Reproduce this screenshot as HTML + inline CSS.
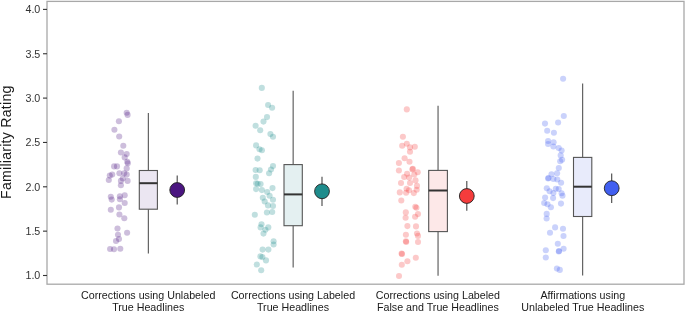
<!DOCTYPE html>
<html><head><meta charset="utf-8"><style>
html,body{margin:0;padding:0;background:#fff;}
body{width:685px;height:311px;overflow:hidden;position:relative;font-family:"Liberation Sans",sans-serif;}
svg{position:absolute;left:0;top:0;will-change:transform;}
svg text{font-family:"Liberation Sans",sans-serif;}
</style></head><body>
<svg width="685" height="311" viewBox="0 0 685 311">
<rect x="47" y="1.4" width="637" height="282.8" fill="none" stroke="#a8a8a8" stroke-width="1.3"/>
<line x1="43" x2="47" y1="275.50" y2="275.50" stroke="#333" stroke-width="1.1"/>
<text x="40.3" y="279.35" font-size="10.7" text-anchor="end" fill="#333">1.0</text>
<line x1="43" x2="47" y1="231.15" y2="231.15" stroke="#333" stroke-width="1.1"/>
<text x="40.3" y="235.00" font-size="10.7" text-anchor="end" fill="#333">1.5</text>
<line x1="43" x2="47" y1="186.80" y2="186.80" stroke="#333" stroke-width="1.1"/>
<text x="40.3" y="190.65" font-size="10.7" text-anchor="end" fill="#333">2.0</text>
<line x1="43" x2="47" y1="142.45" y2="142.45" stroke="#333" stroke-width="1.1"/>
<text x="40.3" y="146.30" font-size="10.7" text-anchor="end" fill="#333">2.5</text>
<line x1="43" x2="47" y1="98.10" y2="98.10" stroke="#333" stroke-width="1.1"/>
<text x="40.3" y="101.95" font-size="10.7" text-anchor="end" fill="#333">3.0</text>
<line x1="43" x2="47" y1="53.75" y2="53.75" stroke="#333" stroke-width="1.1"/>
<text x="40.3" y="57.60" font-size="10.7" text-anchor="end" fill="#333">3.5</text>
<line x1="43" x2="47" y1="9.40" y2="9.40" stroke="#333" stroke-width="1.1"/>
<text x="40.3" y="13.25" font-size="10.7" text-anchor="end" fill="#333">4.0</text>
<text transform="translate(11.4,142.2) rotate(-90)" font-size="14.1" letter-spacing="0.26" text-anchor="middle" fill="#1a1a1a">Familiarity Rating</text>
<text x="148.2" y="298.8" font-size="10.7" text-anchor="middle" fill="#1a1a1a">Corrections using Unlabeled</text>
<text x="148.2" y="310.5" font-size="10.7" text-anchor="middle" fill="#1a1a1a">True Headlines</text>
<text x="293.0" y="298.8" font-size="10.7" text-anchor="middle" fill="#1a1a1a">Corrections using Labeled</text>
<text x="293.0" y="310.5" font-size="10.7" text-anchor="middle" fill="#1a1a1a">True Headlines</text>
<text x="437.9" y="298.8" font-size="10.7" text-anchor="middle" fill="#1a1a1a">Corrections using Labeled</text>
<text x="437.9" y="310.5" font-size="10.7" text-anchor="middle" fill="#1a1a1a">False and True Headlines</text>
<text x="582.8" y="298.8" font-size="10.7" text-anchor="middle" fill="#1a1a1a">Affirmations using</text>
<text x="582.8" y="310.5" font-size="10.7" text-anchor="middle" fill="#1a1a1a">Unlabeled True Headlines</text>
<circle cx="126.7" cy="112.8" r="3.05" fill="#4a1580" fill-opacity="0.28"/>
<circle cx="127.6" cy="114.9" r="3.05" fill="#4a1580" fill-opacity="0.28"/>
<circle cx="118.9" cy="121.3" r="3.05" fill="#4a1580" fill-opacity="0.28"/>
<circle cx="114.4" cy="129.7" r="3.05" fill="#4a1580" fill-opacity="0.28"/>
<circle cx="119.2" cy="136.5" r="3.05" fill="#4a1580" fill-opacity="0.28"/>
<circle cx="123.3" cy="145.8" r="3.05" fill="#4a1580" fill-opacity="0.28"/>
<circle cx="120.9" cy="152.5" r="3.05" fill="#4a1580" fill-opacity="0.28"/>
<circle cx="126.7" cy="154" r="3.05" fill="#4a1580" fill-opacity="0.28"/>
<circle cx="124.7" cy="157.4" r="3.05" fill="#4a1580" fill-opacity="0.28"/>
<circle cx="127.3" cy="161.8" r="3.05" fill="#4a1580" fill-opacity="0.28"/>
<circle cx="127.8" cy="163.2" r="3.05" fill="#4a1580" fill-opacity="0.28"/>
<circle cx="114.1" cy="166.4" r="3.05" fill="#4a1580" fill-opacity="0.28"/>
<circle cx="117" cy="166.4" r="3.05" fill="#4a1580" fill-opacity="0.28"/>
<circle cx="126.7" cy="168.4" r="3.05" fill="#4a1580" fill-opacity="0.28"/>
<circle cx="119.4" cy="173.2" r="3.05" fill="#4a1580" fill-opacity="0.28"/>
<circle cx="124.2" cy="173.2" r="3.05" fill="#4a1580" fill-opacity="0.28"/>
<circle cx="126.7" cy="174.6" r="3.05" fill="#4a1580" fill-opacity="0.28"/>
<circle cx="109.8" cy="175.6" r="3.05" fill="#4a1580" fill-opacity="0.28"/>
<circle cx="112.2" cy="174.6" r="3.05" fill="#4a1580" fill-opacity="0.28"/>
<circle cx="108.8" cy="180" r="3.05" fill="#4a1580" fill-opacity="0.28"/>
<circle cx="122.8" cy="178.5" r="3.05" fill="#4a1580" fill-opacity="0.28"/>
<circle cx="120.9" cy="180.9" r="3.05" fill="#4a1580" fill-opacity="0.28"/>
<circle cx="127.6" cy="180.9" r="3.05" fill="#4a1580" fill-opacity="0.28"/>
<circle cx="120.9" cy="185.3" r="3.05" fill="#4a1580" fill-opacity="0.28"/>
<circle cx="110.8" cy="196.8" r="3.05" fill="#4a1580" fill-opacity="0.28"/>
<circle cx="111.7" cy="199.6" r="3.05" fill="#4a1580" fill-opacity="0.28"/>
<circle cx="119.9" cy="196.3" r="3.05" fill="#4a1580" fill-opacity="0.28"/>
<circle cx="124.7" cy="195.3" r="3.05" fill="#4a1580" fill-opacity="0.28"/>
<circle cx="119.9" cy="199.2" r="3.05" fill="#4a1580" fill-opacity="0.28"/>
<circle cx="124.7" cy="203" r="3.05" fill="#4a1580" fill-opacity="0.28"/>
<circle cx="119" cy="207.4" r="3.05" fill="#4a1580" fill-opacity="0.28"/>
<circle cx="110.8" cy="209.8" r="3.05" fill="#4a1580" fill-opacity="0.28"/>
<circle cx="119.4" cy="214.5" r="3.05" fill="#4a1580" fill-opacity="0.28"/>
<circle cx="124.3" cy="218.2" r="3.05" fill="#4a1580" fill-opacity="0.28"/>
<circle cx="117.5" cy="228.5" r="3.05" fill="#4a1580" fill-opacity="0.28"/>
<circle cx="127.1" cy="232.8" r="3.05" fill="#4a1580" fill-opacity="0.28"/>
<circle cx="118" cy="234.8" r="3.05" fill="#4a1580" fill-opacity="0.28"/>
<circle cx="119" cy="239.1" r="3.05" fill="#4a1580" fill-opacity="0.28"/>
<circle cx="116" cy="241" r="3.05" fill="#4a1580" fill-opacity="0.28"/>
<circle cx="110.1" cy="249" r="3.05" fill="#4a1580" fill-opacity="0.28"/>
<circle cx="114" cy="249.3" r="3.05" fill="#4a1580" fill-opacity="0.28"/>
<circle cx="120.3" cy="248.8" r="3.05" fill="#4a1580" fill-opacity="0.28"/>
<line x1="148.35" x2="148.35" y1="113.1" y2="170.5" stroke="#555" stroke-width="1.1"/>
<line x1="148.35" x2="148.35" y1="209.2" y2="253.4" stroke="#555" stroke-width="1.1"/>
<rect x="139.3" y="170.5" width="18.10" height="38.70" fill="#ebe6f2" stroke="#555" stroke-width="1.1"/>
<line x1="139.3" x2="157.4" y1="183.2" y2="183.2" stroke="#333" stroke-width="2"/>
<line x1="177.2" x2="177.2" y1="175.4" y2="204.6" stroke="#444" stroke-width="1.1"/>
<circle cx="177.2" cy="190.0" r="7.4" fill="#4a1580" stroke="#222" stroke-width="0.9"/>
<circle cx="261.8" cy="87.9" r="3.05" fill="#1e8c8c" fill-opacity="0.28"/>
<circle cx="268.1" cy="105" r="3.05" fill="#1e8c8c" fill-opacity="0.28"/>
<circle cx="272.1" cy="107.7" r="3.05" fill="#1e8c8c" fill-opacity="0.28"/>
<circle cx="267" cy="117.1" r="3.05" fill="#1e8c8c" fill-opacity="0.28"/>
<circle cx="263.5" cy="121.6" r="3.05" fill="#1e8c8c" fill-opacity="0.28"/>
<circle cx="255.6" cy="125.7" r="3.05" fill="#1e8c8c" fill-opacity="0.28"/>
<circle cx="260.2" cy="130.2" r="3.05" fill="#1e8c8c" fill-opacity="0.28"/>
<circle cx="270.4" cy="134.1" r="3.05" fill="#1e8c8c" fill-opacity="0.28"/>
<circle cx="273" cy="136.8" r="3.05" fill="#1e8c8c" fill-opacity="0.28"/>
<circle cx="256.1" cy="145.4" r="3.05" fill="#1e8c8c" fill-opacity="0.28"/>
<circle cx="259.5" cy="149.3" r="3.05" fill="#1e8c8c" fill-opacity="0.28"/>
<circle cx="261.9" cy="150.3" r="3.05" fill="#1e8c8c" fill-opacity="0.28"/>
<circle cx="257.5" cy="158.6" r="3.05" fill="#1e8c8c" fill-opacity="0.28"/>
<circle cx="255.6" cy="170" r="3.05" fill="#1e8c8c" fill-opacity="0.28"/>
<circle cx="259.7" cy="170.2" r="3.05" fill="#1e8c8c" fill-opacity="0.28"/>
<circle cx="273" cy="166.1" r="3.05" fill="#1e8c8c" fill-opacity="0.28"/>
<circle cx="271" cy="169.5" r="3.05" fill="#1e8c8c" fill-opacity="0.28"/>
<circle cx="269.1" cy="173.3" r="3.05" fill="#1e8c8c" fill-opacity="0.28"/>
<circle cx="255.8" cy="176.9" r="3.05" fill="#1e8c8c" fill-opacity="0.28"/>
<circle cx="256.1" cy="183.3" r="3.05" fill="#1e8c8c" fill-opacity="0.28"/>
<circle cx="257.6" cy="183.8" r="3.05" fill="#1e8c8c" fill-opacity="0.28"/>
<circle cx="260.6" cy="184.1" r="3.05" fill="#1e8c8c" fill-opacity="0.28"/>
<circle cx="256.1" cy="189.1" r="3.05" fill="#1e8c8c" fill-opacity="0.28"/>
<circle cx="261.9" cy="190.1" r="3.05" fill="#1e8c8c" fill-opacity="0.28"/>
<circle cx="267.2" cy="192" r="3.05" fill="#1e8c8c" fill-opacity="0.28"/>
<circle cx="272.5" cy="188.1" r="3.05" fill="#1e8c8c" fill-opacity="0.28"/>
<circle cx="269.6" cy="195.8" r="3.05" fill="#1e8c8c" fill-opacity="0.28"/>
<circle cx="262.8" cy="197.8" r="3.05" fill="#1e8c8c" fill-opacity="0.28"/>
<circle cx="273" cy="199.8" r="3.05" fill="#1e8c8c" fill-opacity="0.28"/>
<circle cx="264.7" cy="201.5" r="3.05" fill="#1e8c8c" fill-opacity="0.28"/>
<circle cx="268" cy="205.4" r="3.05" fill="#1e8c8c" fill-opacity="0.28"/>
<circle cx="273" cy="206" r="3.05" fill="#1e8c8c" fill-opacity="0.28"/>
<circle cx="266.9" cy="212.5" r="3.05" fill="#1e8c8c" fill-opacity="0.28"/>
<circle cx="272.2" cy="212" r="3.05" fill="#1e8c8c" fill-opacity="0.28"/>
<circle cx="254.8" cy="214.7" r="3.05" fill="#1e8c8c" fill-opacity="0.28"/>
<circle cx="261.5" cy="224.2" r="3.05" fill="#1e8c8c" fill-opacity="0.28"/>
<circle cx="260.6" cy="227.4" r="3.05" fill="#1e8c8c" fill-opacity="0.28"/>
<circle cx="268.3" cy="227.4" r="3.05" fill="#1e8c8c" fill-opacity="0.28"/>
<circle cx="265.4" cy="229.7" r="3.05" fill="#1e8c8c" fill-opacity="0.28"/>
<circle cx="263.5" cy="233.6" r="3.05" fill="#1e8c8c" fill-opacity="0.28"/>
<circle cx="273.6" cy="241.3" r="3.05" fill="#1e8c8c" fill-opacity="0.28"/>
<circle cx="273.6" cy="244.5" r="3.05" fill="#1e8c8c" fill-opacity="0.28"/>
<circle cx="262.6" cy="249.6" r="3.05" fill="#1e8c8c" fill-opacity="0.28"/>
<circle cx="268.4" cy="249.6" r="3.05" fill="#1e8c8c" fill-opacity="0.28"/>
<circle cx="260.4" cy="256.4" r="3.05" fill="#1e8c8c" fill-opacity="0.28"/>
<circle cx="262.4" cy="257.1" r="3.05" fill="#1e8c8c" fill-opacity="0.28"/>
<circle cx="266" cy="260.4" r="3.05" fill="#1e8c8c" fill-opacity="0.28"/>
<circle cx="256.8" cy="264.5" r="3.05" fill="#1e8c8c" fill-opacity="0.28"/>
<circle cx="261.2" cy="270.3" r="3.05" fill="#1e8c8c" fill-opacity="0.28"/>
<line x1="293.15" x2="293.15" y1="90.8" y2="164.6" stroke="#555" stroke-width="1.1"/>
<line x1="293.15" x2="293.15" y1="225.7" y2="267.5" stroke="#555" stroke-width="1.1"/>
<rect x="284.0" y="164.6" width="18.30" height="61.10" fill="#e4f0f1" stroke="#555" stroke-width="1.1"/>
<line x1="284.0" x2="302.3" y1="194.4" y2="194.4" stroke="#333" stroke-width="2"/>
<line x1="322.0" x2="322.0" y1="176.8" y2="205.9" stroke="#444" stroke-width="1.1"/>
<circle cx="322.0" cy="191.3" r="7.4" fill="#1e8c8c" stroke="#222" stroke-width="0.9"/>
<circle cx="406.8" cy="109.4" r="3.05" fill="#f53c3c" fill-opacity="0.28"/>
<circle cx="402.9" cy="136.8" r="3.05" fill="#f53c3c" fill-opacity="0.28"/>
<circle cx="406.8" cy="143.8" r="3.05" fill="#f53c3c" fill-opacity="0.28"/>
<circle cx="402.2" cy="145.7" r="3.05" fill="#f53c3c" fill-opacity="0.28"/>
<circle cx="410" cy="147.4" r="3.05" fill="#f53c3c" fill-opacity="0.28"/>
<circle cx="414.8" cy="146.7" r="3.05" fill="#f53c3c" fill-opacity="0.28"/>
<circle cx="410" cy="151.7" r="3.05" fill="#f53c3c" fill-opacity="0.28"/>
<circle cx="404.6" cy="158.2" r="3.05" fill="#f53c3c" fill-opacity="0.28"/>
<circle cx="409.5" cy="161.8" r="3.05" fill="#f53c3c" fill-opacity="0.28"/>
<circle cx="398.9" cy="163" r="3.05" fill="#f53c3c" fill-opacity="0.28"/>
<circle cx="412.8" cy="168.8" r="3.05" fill="#f53c3c" fill-opacity="0.28"/>
<circle cx="412.4" cy="169.4" r="3.05" fill="#f53c3c" fill-opacity="0.28"/>
<circle cx="398.9" cy="170.5" r="3.05" fill="#f53c3c" fill-opacity="0.28"/>
<circle cx="407.1" cy="173.8" r="3.05" fill="#f53c3c" fill-opacity="0.28"/>
<circle cx="417.7" cy="172.3" r="3.05" fill="#f53c3c" fill-opacity="0.28"/>
<circle cx="414.3" cy="174.5" r="3.05" fill="#f53c3c" fill-opacity="0.28"/>
<circle cx="404.2" cy="177" r="3.05" fill="#f53c3c" fill-opacity="0.28"/>
<circle cx="409.2" cy="177.6" r="3.05" fill="#f53c3c" fill-opacity="0.28"/>
<circle cx="415.5" cy="180.4" r="3.05" fill="#f53c3c" fill-opacity="0.28"/>
<circle cx="401" cy="183" r="3.05" fill="#f53c3c" fill-opacity="0.28"/>
<circle cx="410" cy="183" r="3.05" fill="#f53c3c" fill-opacity="0.28"/>
<circle cx="417" cy="185.9" r="3.05" fill="#f53c3c" fill-opacity="0.28"/>
<circle cx="406.6" cy="188.8" r="3.05" fill="#f53c3c" fill-opacity="0.28"/>
<circle cx="409" cy="190.3" r="3.05" fill="#f53c3c" fill-opacity="0.28"/>
<circle cx="416.7" cy="189.8" r="3.05" fill="#f53c3c" fill-opacity="0.28"/>
<circle cx="399.8" cy="192.4" r="3.05" fill="#f53c3c" fill-opacity="0.28"/>
<circle cx="406.1" cy="192.7" r="3.05" fill="#f53c3c" fill-opacity="0.28"/>
<circle cx="413.8" cy="193.1" r="3.05" fill="#f53c3c" fill-opacity="0.28"/>
<circle cx="401.3" cy="200.5" r="3.05" fill="#f53c3c" fill-opacity="0.28"/>
<circle cx="415.3" cy="206.8" r="3.05" fill="#f53c3c" fill-opacity="0.28"/>
<circle cx="416.4" cy="207.8" r="3.05" fill="#f53c3c" fill-opacity="0.28"/>
<circle cx="405.8" cy="212.4" r="3.05" fill="#f53c3c" fill-opacity="0.28"/>
<circle cx="405.6" cy="217.7" r="3.05" fill="#f53c3c" fill-opacity="0.28"/>
<circle cx="418" cy="214.1" r="3.05" fill="#f53c3c" fill-opacity="0.28"/>
<circle cx="415.1" cy="216.7" r="3.05" fill="#f53c3c" fill-opacity="0.28"/>
<circle cx="407.4" cy="226.1" r="3.05" fill="#f53c3c" fill-opacity="0.28"/>
<circle cx="416" cy="226.4" r="3.05" fill="#f53c3c" fill-opacity="0.28"/>
<circle cx="405.9" cy="234.7" r="3.05" fill="#f53c3c" fill-opacity="0.28"/>
<circle cx="405.9" cy="241.2" r="3.05" fill="#f53c3c" fill-opacity="0.28"/>
<circle cx="406.2" cy="242" r="3.05" fill="#f53c3c" fill-opacity="0.28"/>
<circle cx="417" cy="233.5" r="3.05" fill="#f53c3c" fill-opacity="0.28"/>
<circle cx="418" cy="235.9" r="3.05" fill="#f53c3c" fill-opacity="0.28"/>
<circle cx="418" cy="242" r="3.05" fill="#f53c3c" fill-opacity="0.28"/>
<circle cx="401.6" cy="253.5" r="3.05" fill="#f53c3c" fill-opacity="0.28"/>
<circle cx="402" cy="254" r="3.05" fill="#f53c3c" fill-opacity="0.28"/>
<circle cx="415.8" cy="257.7" r="3.05" fill="#f53c3c" fill-opacity="0.28"/>
<circle cx="407.4" cy="261.2" r="3.05" fill="#f53c3c" fill-opacity="0.28"/>
<circle cx="401.8" cy="264.8" r="3.05" fill="#f53c3c" fill-opacity="0.28"/>
<circle cx="399" cy="276" r="3.05" fill="#f53c3c" fill-opacity="0.28"/>
<line x1="438.05" x2="438.05" y1="105.8" y2="170.4" stroke="#555" stroke-width="1.1"/>
<line x1="438.05" x2="438.05" y1="231.6" y2="275.7" stroke="#555" stroke-width="1.1"/>
<rect x="428.7" y="170.4" width="18.70" height="61.20" fill="#fde8e8" stroke="#555" stroke-width="1.1"/>
<line x1="428.7" x2="447.4" y1="190.5" y2="190.5" stroke="#333" stroke-width="2"/>
<line x1="466.8" x2="466.8" y1="180.9" y2="210.8" stroke="#444" stroke-width="1.1"/>
<circle cx="466.8" cy="196.0" r="7.4" fill="#f53c3c" stroke="#222" stroke-width="0.9"/>
<circle cx="563.1" cy="78.7" r="3.05" fill="#415ff0" fill-opacity="0.28"/>
<circle cx="563.8" cy="116" r="3.05" fill="#415ff0" fill-opacity="0.28"/>
<circle cx="558.1" cy="122.5" r="3.05" fill="#415ff0" fill-opacity="0.28"/>
<circle cx="545" cy="123.6" r="3.05" fill="#415ff0" fill-opacity="0.28"/>
<circle cx="547.2" cy="130.7" r="3.05" fill="#415ff0" fill-opacity="0.28"/>
<circle cx="553.9" cy="132.7" r="3.05" fill="#415ff0" fill-opacity="0.28"/>
<circle cx="548.1" cy="141" r="3.05" fill="#415ff0" fill-opacity="0.28"/>
<circle cx="548.1" cy="144" r="3.05" fill="#415ff0" fill-opacity="0.28"/>
<circle cx="553.6" cy="142.2" r="3.05" fill="#415ff0" fill-opacity="0.28"/>
<circle cx="553.4" cy="146.5" r="3.05" fill="#415ff0" fill-opacity="0.28"/>
<circle cx="558.7" cy="148" r="3.05" fill="#415ff0" fill-opacity="0.28"/>
<circle cx="561.6" cy="150.6" r="3.05" fill="#415ff0" fill-opacity="0.28"/>
<circle cx="560.7" cy="155.4" r="3.05" fill="#415ff0" fill-opacity="0.28"/>
<circle cx="562.1" cy="159.8" r="3.05" fill="#415ff0" fill-opacity="0.28"/>
<circle cx="560.2" cy="161.2" r="3.05" fill="#415ff0" fill-opacity="0.28"/>
<circle cx="558.8" cy="168" r="3.05" fill="#415ff0" fill-opacity="0.28"/>
<circle cx="557.1" cy="173.2" r="3.05" fill="#415ff0" fill-opacity="0.28"/>
<circle cx="551.5" cy="174.2" r="3.05" fill="#415ff0" fill-opacity="0.28"/>
<circle cx="548.1" cy="178.5" r="3.05" fill="#415ff0" fill-opacity="0.28"/>
<circle cx="548.5" cy="178" r="3.05" fill="#415ff0" fill-opacity="0.28"/>
<circle cx="553.4" cy="179" r="3.05" fill="#415ff0" fill-opacity="0.28"/>
<circle cx="557.3" cy="179.5" r="3.05" fill="#415ff0" fill-opacity="0.28"/>
<circle cx="561.1" cy="182.8" r="3.05" fill="#415ff0" fill-opacity="0.28"/>
<circle cx="546.8" cy="188.3" r="3.05" fill="#415ff0" fill-opacity="0.28"/>
<circle cx="555.8" cy="188.8" r="3.05" fill="#415ff0" fill-opacity="0.28"/>
<circle cx="558.7" cy="189" r="3.05" fill="#415ff0" fill-opacity="0.28"/>
<circle cx="549.6" cy="191.2" r="3.05" fill="#415ff0" fill-opacity="0.28"/>
<circle cx="553.4" cy="193" r="3.05" fill="#415ff0" fill-opacity="0.28"/>
<circle cx="561.6" cy="193.2" r="3.05" fill="#415ff0" fill-opacity="0.28"/>
<circle cx="562.5" cy="195.7" r="3.05" fill="#415ff0" fill-opacity="0.28"/>
<circle cx="545.1" cy="197.6" r="3.05" fill="#415ff0" fill-opacity="0.28"/>
<circle cx="553.1" cy="198.1" r="3.05" fill="#415ff0" fill-opacity="0.28"/>
<circle cx="544.2" cy="203" r="3.05" fill="#415ff0" fill-opacity="0.28"/>
<circle cx="547.5" cy="204.2" r="3.05" fill="#415ff0" fill-opacity="0.28"/>
<circle cx="550.9" cy="207.3" r="3.05" fill="#415ff0" fill-opacity="0.28"/>
<circle cx="561" cy="203.6" r="3.05" fill="#415ff0" fill-opacity="0.28"/>
<circle cx="546.7" cy="213.9" r="3.05" fill="#415ff0" fill-opacity="0.28"/>
<circle cx="546.6" cy="218.5" r="3.05" fill="#415ff0" fill-opacity="0.28"/>
<circle cx="555.1" cy="227.4" r="3.05" fill="#415ff0" fill-opacity="0.28"/>
<circle cx="550" cy="232.7" r="3.05" fill="#415ff0" fill-opacity="0.28"/>
<circle cx="563" cy="228.7" r="3.05" fill="#415ff0" fill-opacity="0.28"/>
<circle cx="563.5" cy="236" r="3.05" fill="#415ff0" fill-opacity="0.28"/>
<circle cx="557.8" cy="243.8" r="3.05" fill="#415ff0" fill-opacity="0.28"/>
<circle cx="563.6" cy="248.7" r="3.05" fill="#415ff0" fill-opacity="0.28"/>
<circle cx="558.8" cy="251.5" r="3.05" fill="#415ff0" fill-opacity="0.28"/>
<circle cx="559" cy="251" r="3.05" fill="#415ff0" fill-opacity="0.28"/>
<circle cx="545.8" cy="250.3" r="3.05" fill="#415ff0" fill-opacity="0.28"/>
<circle cx="545.8" cy="257.5" r="3.05" fill="#415ff0" fill-opacity="0.28"/>
<circle cx="556.9" cy="268.6" r="3.05" fill="#415ff0" fill-opacity="0.28"/>
<circle cx="559.8" cy="269.9" r="3.05" fill="#415ff0" fill-opacity="0.28"/>
<line x1="582.65" x2="582.65" y1="83.5" y2="157.4" stroke="#555" stroke-width="1.1"/>
<line x1="582.65" x2="582.65" y1="216.5" y2="275.6" stroke="#555" stroke-width="1.1"/>
<rect x="573.5" y="157.4" width="18.30" height="59.10" fill="#e8ebfb" stroke="#555" stroke-width="1.1"/>
<line x1="573.5" x2="591.8" y1="186.7" y2="186.7" stroke="#333" stroke-width="2"/>
<line x1="611.7" x2="611.7" y1="173.4" y2="203.0" stroke="#444" stroke-width="1.1"/>
<circle cx="611.7" cy="188.2" r="7.4" fill="#415ff0" stroke="#222" stroke-width="0.9"/>
</svg>
</body></html>
